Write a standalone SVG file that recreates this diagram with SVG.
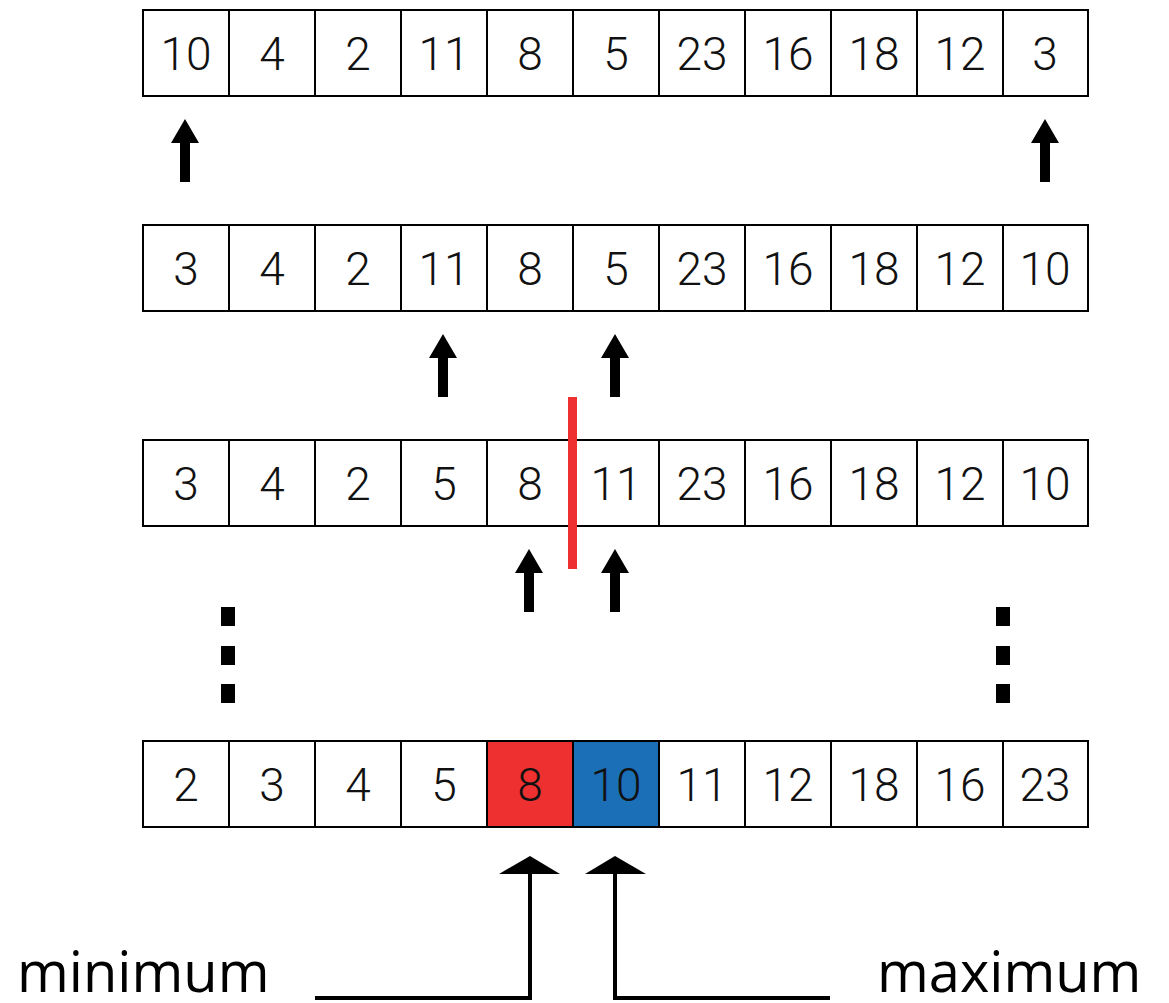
<svg xmlns="http://www.w3.org/2000/svg" width="1169" height="1003" viewBox="0 0 1169 1003">
<defs>
<style>
.cell{fill:#fff;stroke:#000;stroke-width:2}
.num{font-family:Roboto,"Liberation Sans",sans-serif;font-weight:300;font-size:46px;text-anchor:middle;fill:#111}
.lbl{font-family:"Open Sans","Liberation Sans",sans-serif;font-weight:400;font-size:56px;fill:#000}
.conn{fill:none;stroke:#000;stroke-width:4}
</style>
<path id="arr" d="M0,0 L14,24 L5,24 L5,63 L-5,63 L-5,24 L-14,24 Z" fill="#000"/>
<rect id="dot" width="14" height="19" fill="#000"/>
</defs>
<rect width="1169" height="1003" fill="#fff"/>

<g id="row1" transform="translate(143,10)">
<rect class="cell" x="0" y="0" width="86" height="86"/><rect class="cell" x="86" y="0" width="86" height="86"/><rect class="cell" x="172" y="0" width="86" height="86"/><rect class="cell" x="258" y="0" width="86" height="86"/><rect class="cell" x="344" y="0" width="86" height="86"/><rect class="cell" x="430" y="0" width="86" height="86"/><rect class="cell" x="516" y="0" width="86" height="86"/><rect class="cell" x="602" y="0" width="86" height="86"/><rect class="cell" x="688" y="0" width="86" height="86"/><rect class="cell" x="774" y="0" width="86" height="86"/><rect class="cell" x="860" y="0" width="85" height="86"/>
<text class="num" x="43" y="60">10</text><text class="num" x="129" y="60">4</text><text class="num" x="215" y="60">2</text><text class="num" x="301" y="60">11</text><text class="num" x="387" y="60">8</text><text class="num" x="473" y="60">5</text><text class="num" x="559" y="60">23</text><text class="num" x="645" y="60">16</text><text class="num" x="731" y="60">18</text><text class="num" x="817" y="60">12</text><text class="num" x="902" y="60">3</text>
</g>

<g id="row2" transform="translate(143,225)">
<rect class="cell" x="0" y="0" width="86" height="86"/><rect class="cell" x="86" y="0" width="86" height="86"/><rect class="cell" x="172" y="0" width="86" height="86"/><rect class="cell" x="258" y="0" width="86" height="86"/><rect class="cell" x="344" y="0" width="86" height="86"/><rect class="cell" x="430" y="0" width="86" height="86"/><rect class="cell" x="516" y="0" width="86" height="86"/><rect class="cell" x="602" y="0" width="86" height="86"/><rect class="cell" x="688" y="0" width="86" height="86"/><rect class="cell" x="774" y="0" width="86" height="86"/><rect class="cell" x="860" y="0" width="85" height="86"/>
<text class="num" x="43" y="60">3</text><text class="num" x="129" y="60">4</text><text class="num" x="215" y="60">2</text><text class="num" x="301" y="60">11</text><text class="num" x="387" y="60">8</text><text class="num" x="473" y="60">5</text><text class="num" x="559" y="60">23</text><text class="num" x="645" y="60">16</text><text class="num" x="731" y="60">18</text><text class="num" x="817" y="60">12</text><text class="num" x="902" y="60">10</text>
</g>

<g id="row3" transform="translate(143,440)">
<rect class="cell" x="0" y="0" width="86" height="86"/><rect class="cell" x="86" y="0" width="86" height="86"/><rect class="cell" x="172" y="0" width="86" height="86"/><rect class="cell" x="258" y="0" width="86" height="86"/><rect class="cell" x="344" y="0" width="86" height="86"/><rect class="cell" x="430" y="0" width="86" height="86"/><rect class="cell" x="516" y="0" width="86" height="86"/><rect class="cell" x="602" y="0" width="86" height="86"/><rect class="cell" x="688" y="0" width="86" height="86"/><rect class="cell" x="774" y="0" width="86" height="86"/><rect class="cell" x="860" y="0" width="85" height="86"/>
<text class="num" x="43" y="60">3</text><text class="num" x="129" y="60">4</text><text class="num" x="215" y="60">2</text><text class="num" x="301" y="60">5</text><text class="num" x="387" y="60">8</text><text class="num" x="473" y="60">11</text><text class="num" x="559" y="60">23</text><text class="num" x="645" y="60">16</text><text class="num" x="731" y="60">18</text><text class="num" x="817" y="60">12</text><text class="num" x="902" y="60">10</text>
</g>

<g id="row4" transform="translate(143,741)">
<rect class="cell" x="0" y="0" width="86" height="86"/><rect class="cell" x="86" y="0" width="86" height="86"/><rect class="cell" x="172" y="0" width="86" height="86"/><rect class="cell" x="258" y="0" width="86" height="86"/><rect class="cell" x="344" y="0" width="86" height="86" style="fill:#ee3130"/><rect class="cell" x="430" y="0" width="86" height="86" style="fill:#1b6fb6"/><rect class="cell" x="516" y="0" width="86" height="86"/><rect class="cell" x="602" y="0" width="86" height="86"/><rect class="cell" x="688" y="0" width="86" height="86"/><rect class="cell" x="774" y="0" width="86" height="86"/><rect class="cell" x="860" y="0" width="85" height="86"/>
<text class="num" x="43" y="60">2</text><text class="num" x="129" y="60">3</text><text class="num" x="215" y="60">4</text><text class="num" x="301" y="60">5</text><text class="num" x="387" y="60">8</text><text class="num" x="473" y="60">10</text><text class="num" x="559" y="60">11</text><text class="num" x="645" y="60">12</text><text class="num" x="731" y="60">18</text><text class="num" x="817" y="60">16</text><text class="num" x="902" y="60">23</text>
</g>

<g id="divider"><rect x="568" y="397" width="9" height="172" fill="#ee3130"/></g>

<g id="dots-left"><use href="#dot" x="221" y="607"/><use href="#dot" x="221" y="646"/><use href="#dot" x="221" y="684"/></g>
<g id="dots-right"><use href="#dot" x="996" y="607"/><use href="#dot" x="996" y="646"/><use href="#dot" x="996" y="684"/></g>

<g id="label-min"><text class="lbl" x="17" y="992">minimum</text></g>
<g id="label-max"><text class="lbl" x="877" y="992">maximum</text></g>

<g id="connectors">
<use href="#arr" x="185" y="119"/>
<use href="#arr" x="1045" y="119"/>
<use href="#arr" x="443" y="334"/>
<use href="#arr" x="615" y="334"/>
<use href="#arr" x="529" y="549"/>
<use href="#arr" x="615" y="549"/>
<polyline class="conn" points="315,998 530,998 530,872"/>
<polygon points="530,856 560,874 499,874" fill="#000"/>
<polyline class="conn" points="830,998 615,998 615,872"/>
<polygon points="615,856 646,874 585,874" fill="#000"/>
</g>
</svg>
